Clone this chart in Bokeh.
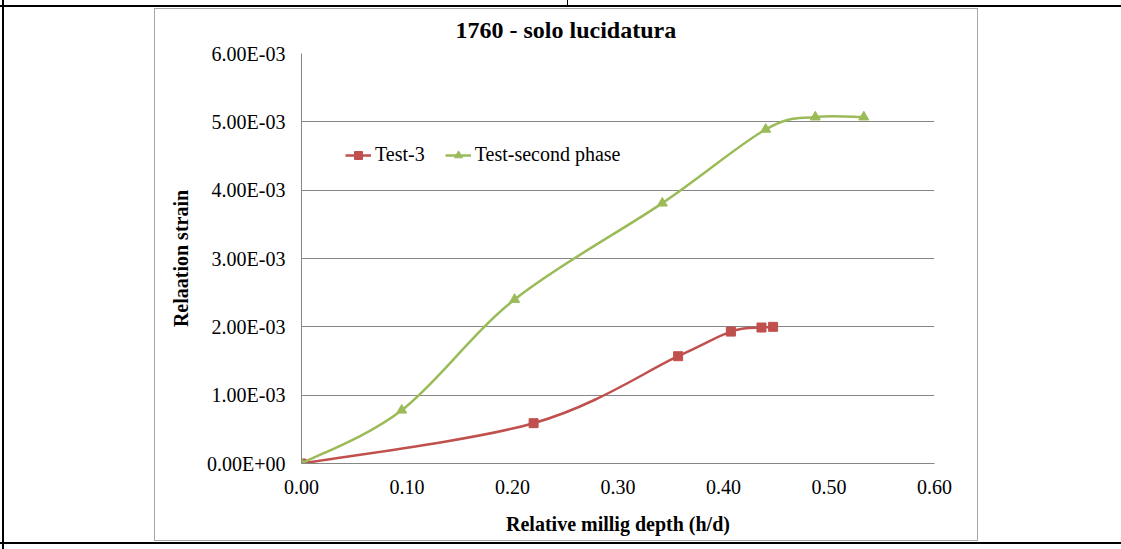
from bokeh.plotting import figure
from bokeh.models import Range1d, FixedTicker, Legend, LegendItem
from bokeh.embed import file_html
from bokeh.resources import INLINE

# Measured series
test3_x = [0.0, 0.22, 0.357, 0.407, 0.436, 0.447]
test3_y = [0.0, 0.00059, 0.00157, 0.00193, 0.00199, 0.00200]

second_x = [0.0, 0.095, 0.202, 0.342, 0.440, 0.487, 0.533]
second_y = [0.0, 0.00078, 0.00240, 0.00381, 0.00489, 0.00507, 0.00507]

x_ticks = [0.0, 0.1, 0.2, 0.3, 0.4, 0.5, 0.6]
x_tick_labels = ["0.00", "0.10", "0.20", "0.30", "0.40", "0.50", "0.60"]
y_ticks = [0.0, 0.001, 0.002, 0.003, 0.004, 0.005, 0.006]
y_tick_labels = ["0.00E+00", "1.00E-03", "2.00E-03", "3.00E-03",
                 "4.00E-03", "5.00E-03", "6.00E-03"]

title_text = "1760 - solo lucidatura"
x_label = "Relative millig depth (h/d)"
y_label = "Relaation strain"

RED = "#C0504D"
GREEN = "#9BBB59"
GRID = "#868686"
SERIF = "Liberation Serif"


def smooth_segments(xs, ys, k=1.0 / 6.0):
    """Catmull-Rom style cubic Bezier control points through the points."""
    n = len(xs)
    x0, y0, x1, y1, cx0, cy0, cx1, cy1 = ([] for _ in range(8))
    for i in range(n - 1):
        pa = (xs[max(i - 1, 0)], ys[max(i - 1, 0)])
        p1 = (xs[i], ys[i])
        p2 = (xs[i + 1], ys[i + 1])
        pb = (xs[min(i + 2, n - 1)], ys[min(i + 2, n - 1)])
        x0.append(p1[0]); y0.append(p1[1])
        x1.append(p2[0]); y1.append(p2[1])
        cx0.append(p1[0] + (p2[0] - pa[0]) * k)
        cy0.append(p1[1] + (p2[1] - pa[1]) * k)
        cx1.append(p2[0] - (pb[0] - p1[0]) * k)
        cy1.append(p2[1] - (pb[1] - p1[1]) * k)
    return dict(x0=x0, y0=y0, x1=x1, y1=y1, cx0=cx0, cy0=cy0, cx1=cx1, cy1=cy1)


p = figure(width=1121, height=549, output_backend="svg", toolbar_location=None,
           x_range=Range1d(0, 0.6), y_range=Range1d(0, 0.006),
           min_border_left=301, min_border_right=187,
           min_border_top=53, min_border_bottom=86)
p.outline_line_color = None
p.background_fill_color = "white"
p.border_fill_alpha = 0

# table rules and the chart-area border, painted behind the transparent canvas
line_rules = [
    "linear-gradient(#000,#000) 0px 5px / 100% 2px no-repeat",      # top rule
    "linear-gradient(#000,#000) 567px 0px / 1px 6px no-repeat",      # column split
    "linear-gradient(#000,#000) 2px 0px / 2px 100% no-repeat",       # left rule
    "linear-gradient(#000,#000) 0px 542px / 100% 2px no-repeat",     # bottom rule
    "linear-gradient(#a6a6a6,#a6a6a6) 154px 8px / 1px 533px no-repeat",
    "linear-gradient(#a6a6a6,#a6a6a6) 977px 8px / 1px 533px no-repeat",
    "linear-gradient(#a6a6a6,#a6a6a6) 154px 8px / 824px 1px no-repeat",
    "linear-gradient(#a6a6a6,#a6a6a6) 154px 540px / 824px 1px no-repeat",
]
p.styles = {"background": ", ".join(line_rules) + ", #ffffff"}

# title
p.title.text = title_text
p.title.align = "left"
p.title.offset = 154
p.title.standoff = 22
p.title.text_font = SERIF
p.title.text_font_size = "24px"
p.title.text_font_style = "bold"
p.title.text_color = "black"

# grid
p.xgrid.grid_line_color = None
p.ygrid.grid_line_color = GRID
p.ygrid.grid_line_width = 1
p.ygrid.ticker = FixedTicker(ticks=y_ticks)

# axes
p.yaxis.ticker = FixedTicker(ticks=y_ticks)
p.yaxis.major_label_overrides = dict(zip(y_ticks, y_tick_labels))
p.xaxis.ticker = FixedTicker(ticks=x_ticks)
p.xaxis.major_label_overrides = dict(zip(x_ticks, x_tick_labels))
for ax in (p.xaxis, p.yaxis):
    ax.axis_line_color = GRID
    ax.axis_line_width = 1
    ax.major_tick_line_color = None
    ax.minor_tick_line_color = None
    ax.major_label_text_font = SERIF
    ax.major_label_text_font_size = "20px"
    ax.major_label_text_color = "black"
    ax.axis_label_text_font = SERIF
    ax.axis_label_text_font_size = "20px"
    ax.axis_label_text_font_style = "bold"
    ax.axis_label_text_color = "black"
p.xaxis.axis_label = x_label
p.yaxis.axis_label = y_label
p.yaxis.major_label_standoff = 10
p.yaxis.axis_label_standoff = 12
p.xaxis.major_label_standoff = 10
p.xaxis.axis_label_standoff = 16

# smoothed lines and markers
r3_line = p.bezier(source=smooth_segments(test3_x, test3_y), x0="x0", y0="y0",
                   x1="x1", y1="y1", cx0="cx0", cy0="cy0", cx1="cx1", cy1="cy1",
                   line_color=RED, line_width=2.5)
r3_pts = p.scatter(test3_x, test3_y, marker="square", size=9,
                   fill_color=RED, line_color=RED)
r2_line = p.bezier(source=smooth_segments(second_x, second_y), x0="x0", y0="y0",
                   x1="x1", y1="y1", cx0="cx0", cy0="cy0", cx1="cx1", cy1="cy1",
                   line_color=GREEN, line_width=2.5)
r2_pts = p.scatter(second_x, second_y, marker="triangle", size=10,
                   fill_color=GREEN, line_color=GREEN)

legend = Legend(items=[LegendItem(label="Test-3", renderers=[r3_line, r3_pts]),
                       LegendItem(label="Test-second phase", renderers=[r2_line, r2_pts])],
                orientation="horizontal", location=(44, 297),
                label_text_font=SERIF, label_text_font_size="20px",
                label_text_color="black", glyph_width=26, glyph_height=20,
                label_height=20, label_standoff=4, spacing=20, padding=0,
                border_line_color=None, background_fill_alpha=0)
p.add_layout(legend, "center")

open("out.html", "w").write(file_html(p, INLINE))
